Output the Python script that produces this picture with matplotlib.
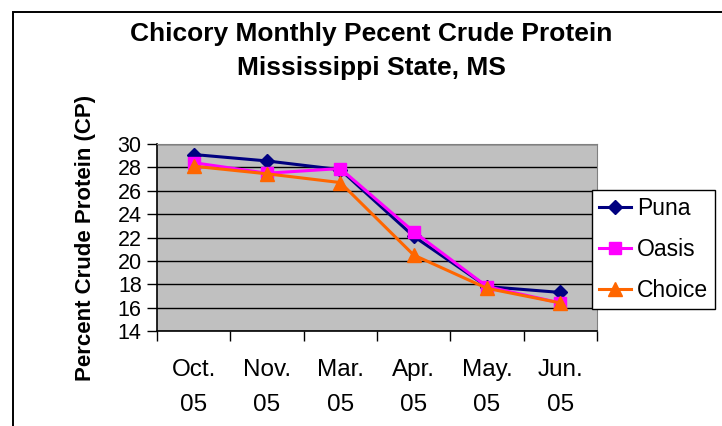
import matplotlib
matplotlib.use("Agg")
import matplotlib.pyplot as plt
from matplotlib.patches import Rectangle

categories = ["Oct.\n05", "Nov.\n05", "Mar.\n05", "Apr.\n05", "May.\n05", "Jun.\n05"]
puna = [29.1, 28.55, 27.8, 22.1, 17.8, 17.3]
oasis = [28.4, 27.5, 27.9, 22.5, 17.8, 16.4]
choice = [28.1, 27.45, 26.7, 20.5, 17.65, 16.4]
yticks = [14, 16, 18, 20, 22, 24, 26, 28, 30]

plt.rcParams['font.family'] = ['Liberation Sans', 'DejaVu Sans']

W, H = 722, 426
fig = plt.figure(figsize=(W/100, H/100), dpi=100)
fig.patches.append(Rectangle((13/W, -0.1), 2, 1 - 12/H + 0.1, transform=fig.transFigure,
                             fill=False, edgecolor='black', linewidth=1.4))

left, right, top, bottom = 157, 597, 144, 331
ax = fig.add_axes([left/W, 1-bottom/H, (right-left)/W, (bottom-top)/H])
ax.set_facecolor('#C0C0C0')
x = list(range(len(categories)))
ax.plot(x, puna, color='#000080', marker='D', markersize=7.5, linewidth=2.2, label='Puna', zorder=3)
ax.plot(x, oasis, color='#FF00FF', marker='s', markersize=8.5, linewidth=2.2, label='Oasis', zorder=4)
ax.plot(x, choice, color='#FF6600', marker='^', markersize=10, linewidth=2.2, label='Choice', zorder=5)

ax.set_xlim(-0.5, len(categories)-0.5)
ax.set_ylim(14, 30)
ax.set_yticks(yticks)
ax.set_yticklabels([str(v) for v in yticks], fontsize=15.5)
ax.yaxis.grid(True, color='black', linewidth=1)
ax.set_axisbelow(True)
ax.set_xticks([i - 0.5 for i in range(len(categories)+1)])
ax.set_xticklabels([])
ax.set_xticks(x, minor=True)
ax.set_xticklabels(categories, minor=True, fontsize=17.5, linespacing=1.75)
ax.tick_params(axis='x', which='minor', length=0, pad=20)
ax.tick_params(axis='x', which='major', length=7, width=1, direction='out')
ax.tick_params(axis='y', length=7, width=1, direction='out', pad=4)
for s in ['top', 'right']:
    ax.spines[s].set_color('#808080')
for s in ['left', 'bottom']:
    ax.spines[s].set_color('black')
    ax.spines[s].set_linewidth(1.2)

fig.text(86/W, 1-238/H, 'Percent Crude Protein (CP)', rotation=90, ha='center', va='center',
         fontsize=16, fontweight='bold')

fig.text(371/W, 1-34/H, 'Chicory Monthly Pecent Crude Protein', ha='center', va='center',
         fontsize=19, fontweight='bold')
fig.text(371/W, 1-68/H, 'Mississippi State, MS', ha='center', va='center',
         fontsize=19, fontweight='bold')

leg = ax.legend(loc='upper left', bbox_to_anchor=(592/W, 1-190/H), bbox_transform=fig.transFigure,
                fontsize=16.5, frameon=True, fancybox=False, edgecolor='black', framealpha=1,
                borderpad=0.3, handlelength=1.4, handletextpad=0.25, labelspacing=0.78,
                borderaxespad=0)
leg.get_frame().set_linewidth(1)

fig.savefig('out.png', dpi=100)
